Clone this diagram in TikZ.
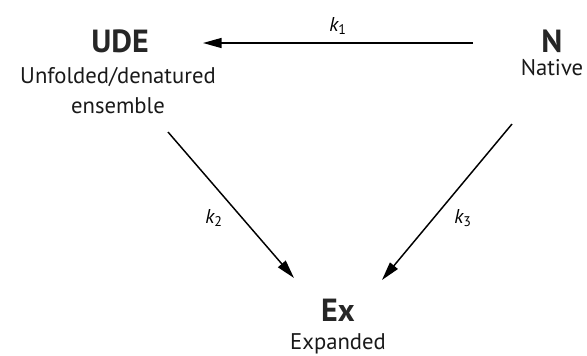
\documentclass[tikz,border=0pt]{standalone}
\usepackage{fontspec}
\setmainfont{PT Sans}
\usetikzlibrary{arrows.meta}
\begin{document}
\begin{tikzpicture}[x=0.75pt,y=-0.75pt,
  title/.style={font=\fontsize{24}{28}\selectfont\bfseries, text=black!85, inner sep=0pt},
  sub/.style={font=\fontsize{17}{22.5}\selectfont, text=black!90, inner sep=0pt, align=center},
  rate/.style={font=\fontsize{15}{17}\selectfont, inner sep=0pt},
  arr/.style={line width=1.1pt, -{Triangle[length=14pt,width=7.5pt]}}]
\useasboundingbox (0,0) rectangle (587,355);
\node[title] (ude) at (120,41) {UDE};
\node[sub] (udes) at (118,91) {Unfolded/denatured\\ensemble};
\node[title] (n) at (552,41) {N};
\node[sub] (ns) at (552,68) {Native};
\node[title] (ex) at (338,310) {Ex};
\node[sub] (exs) at (338,344) {Expanded};
\coordinate (a1) at (473,43);
\coordinate (b1) at (203,43);
\coordinate (a2) at (168,132);
\coordinate (b2) at (294,278);
\coordinate (a3) at (512,124);
\coordinate (b3) at (382,280);
\draw[arr] (a1) -- (b1);
\draw[arr] (a2) -- (b2);
\draw[arr] (a3) -- (b3);
\node[rate] (k1) at (338,26) {\itshape k\textsubscript{\upshape 1}};
\node[rate] (k2) at (214,218) {\itshape k\textsubscript{\upshape 2}};
\node[rate] (k3) at (463,218) {\itshape k\textsubscript{\upshape 3}};
\end{tikzpicture}
\end{document}
